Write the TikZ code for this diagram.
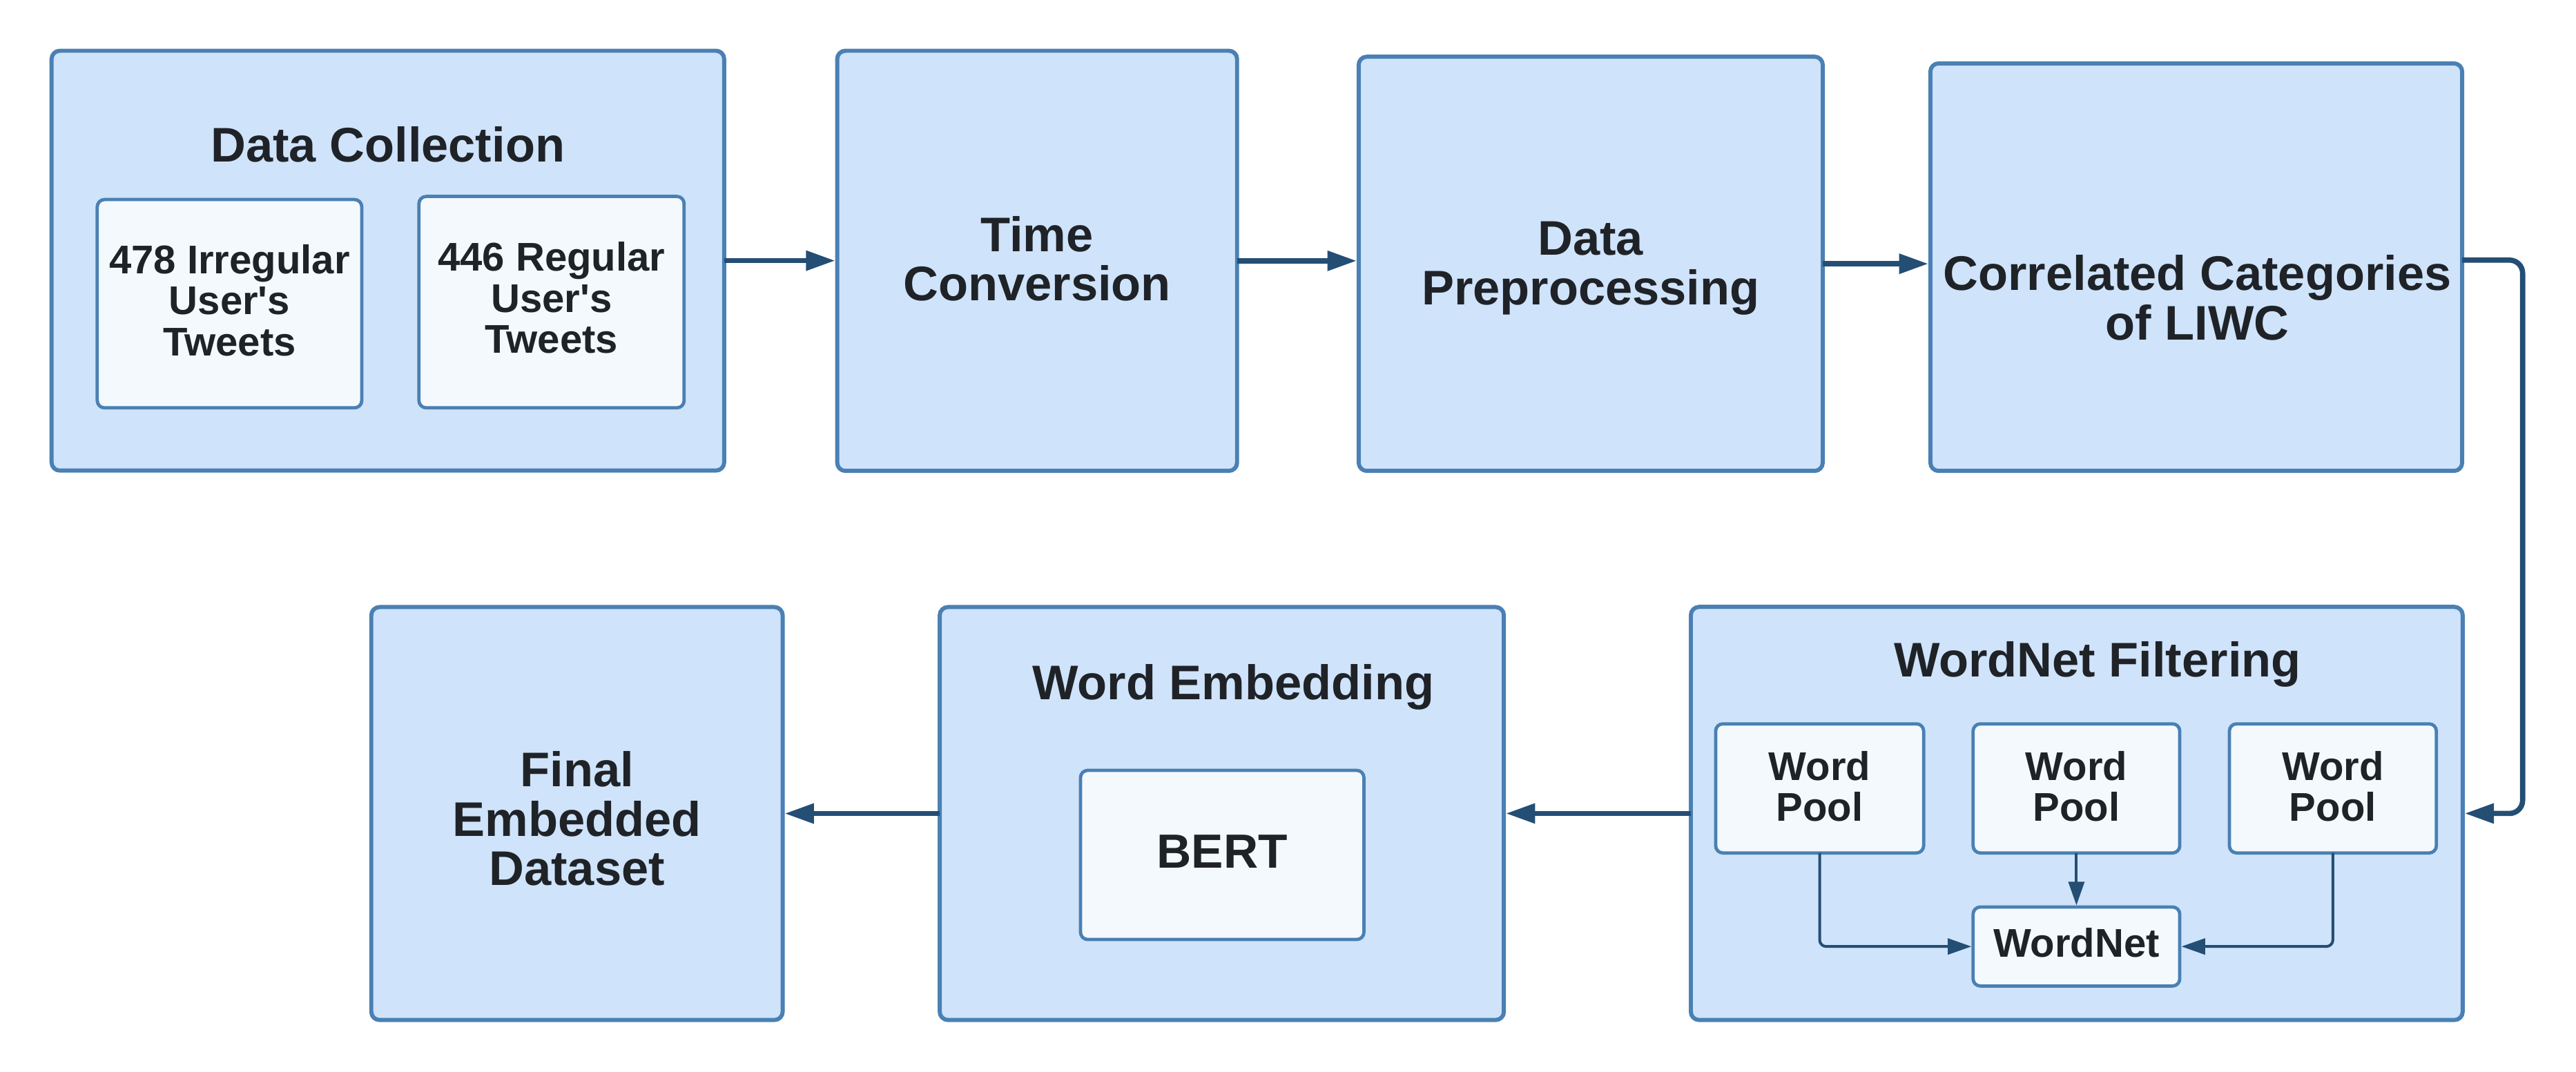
\documentclass[tikz,border=0pt]{standalone}
\usepackage{fontspec}
\setmainfont{Liberation Sans}[Ligatures=TeXOff]
\usetikzlibrary{arrows.meta,calc}
\definecolor{boxfill}{RGB}{207,227,250}
\definecolor{innerfill}{RGB}{244,249,254}
\definecolor{boxborder}{RGB}{74,128,179}
\definecolor{arrowcol}{RGB}{36,78,116}
\definecolor{textcol}{RGB}{31,35,40}
\tikzset{
  mainbox/.style={draw=boxborder, fill=boxfill, line width=1.25pt, rounded corners=2.5pt,
    inner sep=0pt, outer sep=0pt, anchor=north west},
  innerbox/.style={draw=boxborder, fill=innerfill, line width=1pt, rounded corners=2.2pt,
    inner sep=0pt, outer sep=0pt, anchor=north west},
  bigtext/.style={text=textcol, align=center, inner sep=0pt,
    font=\fontsize{14.8}{15}\selectfont\bfseries},
  smalltext/.style={text=textcol, align=center, inner sep=0pt,
    font=\fontsize{12.2}{12.5}\selectfont\bfseries},
  conn/.style={draw=arrowcol, line width=1.6pt, shorten >=0.6pt,
    -{Triangle[length=8.9pt,width=5.8pt]}},
  thinconn/.style={draw=arrowcol, line width=0.85pt, rounded corners=2pt, shorten >=0.5pt,
    -{Triangle[length=7.2pt,width=4.8pt]}}
}
\begin{document}
\begin{tikzpicture}[x=0.5pt,y=-0.5pt]
\useasboundingbox (0,0) rectangle (1568,652.66);
\fill[white] (0,0) rectangle (1568,652.66);

% top row
\node[mainbox, minimum width=204.7pt, minimum height=127.8pt] (dc) at (31.4,30.9) {};
\node[bigtext] (dctitle) at (236.1,87.8) {Data Collection};
\node[innerbox, minimum width=80.5pt, minimum height=63.4pt] (irr) at (59.2,121.5) {};
\node[smalltext] (irrtext) at (139.7,182.8) {478 Irregular\\User's\\Tweets};
\node[innerbox, minimum width=80.7pt, minimum height=64.35pt] (reg) at (255,119.6) {};
\node[smalltext] (regtext) at (335.7,181.4) {446 Regular\\User's\\Tweets};

\node[mainbox, minimum width=121.7pt, minimum height=127.9pt] (tc) at (509.6,30.9) {};
\node[bigtext] (tctext) at (631.3,157.4) {Time\\Conversion};

\node[mainbox, minimum width=141.25pt, minimum height=126.1pt] (dp) at (827,34.5) {};
\node[bigtext] (dptext) at (968.2,163.3) {Data\\Preprocessing};

\node[mainbox, minimum width=161.85pt, minimum height=124.05pt] (corr) at (1175,38.6) {};
\node[bigtext] (corrtext) at (1337.5,181.2) {Correlated Categories\\of LIWC};

% bottom row
\node[mainbox, minimum width=125.2pt, minimum height=125.7pt] (final) at (226,369.6) {};
\node[bigtext] (finaltext) at (351.2,498.4) {Final\\Embedded\\Dataset};

\node[mainbox, minimum width=171.7pt, minimum height=125.7pt] (we) at (572,369.6) {};
\node[bigtext] (wetitle) at (750.8,418.3) {Word Embedding};
\node[innerbox, minimum width=86.25pt, minimum height=51.5pt] (bert) at (657.7,469) {};
\node[bigtext, font=\fontsize{14.6}{15}\selectfont\bfseries] (berttext) at (744,518.4) {BERT};

\node[mainbox, minimum width=234.9pt, minimum height=125.75pt] (wf) at (1029.2,369.5) {};
\node[bigtext] (wftitle) at (1276.7,404.5) {WordNet Filtering};
\node[innerbox, minimum width=63.3pt, minimum height=39.3pt] (wp1) at (1044.3,440.7) {};
\node[smalltext] (wp1text) at (1107.6,478.7) {Word\\Pool};
\node[innerbox, minimum width=62.9pt, minimum height=39.3pt] (wp2) at (1201,440.7) {};
\node[smalltext] (wp2text) at (1263.9,478.7) {Word\\Pool};
\node[innerbox, minimum width=63pt, minimum height=39.3pt] (wp3) at (1357,440.7) {};
\node[smalltext] (wp3text) at (1420,478.7) {Word\\Pool};
\node[innerbox, minimum width=62.9pt, minimum height=24.05pt] (wn) at (1201,552.2) {};
\node[smalltext] (wntext) at (1263.9,574) {WordNet};

% connectors
\coordinate (rt) at (1535.5,0);
\draw[conn] (dc.east) -- (dc.east -| tc.west);
\draw[conn] (tc.east) -- (tc.east -| dp.west);
\draw[conn] (dp.east) -- (dp.east -| corr.west);
\draw[conn, rounded corners=4pt] ([yshift=2.15pt]corr.east) -- ([yshift=2.15pt]corr.east -| rt) |- (wf.east);
\draw[conn] (wf.west) -- (wf.west -| we.east);
\draw[conn] (we.west) -- (we.west -| final.east);

\draw[thinconn] (wp1.south) |- (wn.west);
\draw[thinconn] (wp2.south) -- (wn.north);
\draw[thinconn] (wp3.south) |- (wn.east);
\end{tikzpicture}
\end{document}
